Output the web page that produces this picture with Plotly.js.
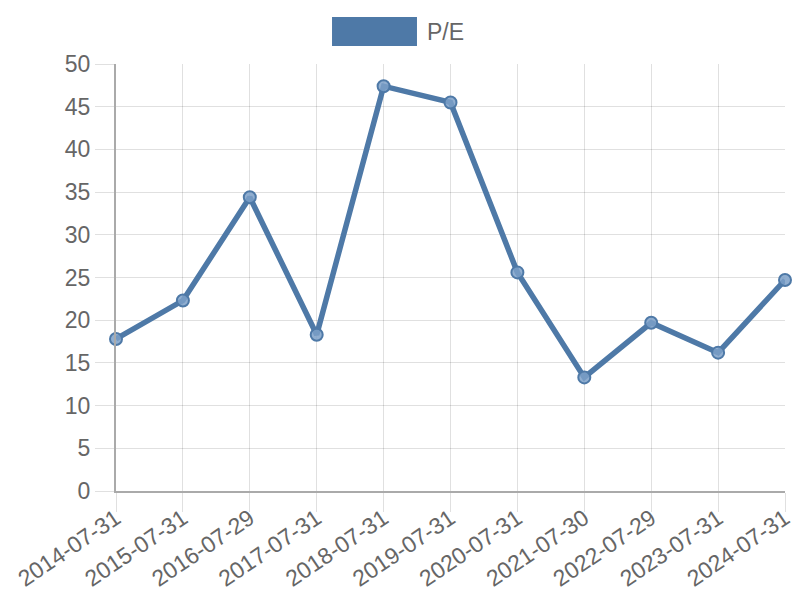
<!DOCTYPE html>
<html>
<head>
<meta charset="utf-8">
<script src="https://cdn.plot.ly/plotly-3.0.1.min.js"></script>
<style>
  html, body { margin: 0; padding: 0; background: #fff; }
  #chart { width: 800px; height: 600px; }
</style>
</head>
<body>
<div id="chart"></div>
<script>
var dates = ['2014-07-31', '2015-07-31', '2016-07-29', '2017-07-31', '2018-07-31', '2019-07-31',
             '2020-07-31', '2021-07-30', '2022-07-29', '2023-07-31', '2024-07-31'];
var peValues = [17.8, 22.3, 34.4, 18.3, 47.4, 45.5, 25.6, 13.3, 19.7, 16.2, 24.7];
var seriesName = 'P/E';

var blue = '#4e79a7';
var font = 'Liberation Sans, Arial, sans-serif';

var trace = {
    type: 'scatter',
    mode: 'lines+markers',
    x: dates,
    y: peValues,
    name: seriesName,
    showlegend: false,
    line: {color: blue, width: 5.5},
    marker: {size: 12, color: 'rgba(125,160,200,0.85)', line: {color: blue, width: 2}},
    cliponaxis: false
};

var layout = {
    width: 800,
    height: 600,
    margin: {l: 116, r: 15, t: 64, b: 109},
    paper_bgcolor: '#fff',
    plot_bgcolor: '#fff',
    font: {family: font, color: '#666', size: 23},
    xaxis: {
        type: 'category',
        range: [0, dates.length - 1],
        tickangle: -34,
        ticks: 'outside',
        ticklen: 19,
        ticklabelstandoff: -16,
        tickcolor: 'rgba(0,0,0,0.12)',
        showgrid: true,
        gridcolor: 'rgba(0,0,0,0.12)',
        showline: true,
        linecolor: '#aaa',
        linewidth: 2,
        tickfont: {size: 23, color: '#666'},
        zeroline: false
    },
    yaxis: {
        range: [0, 50],
        dtick: 5,
        ticks: 'outside',
        ticklen: 19,
        tickcolor: 'rgba(0,0,0,0.12)',
        gridcolor: 'rgba(0,0,0,0.12)',
        showline: true,
        linecolor: '#aaa',
        linewidth: 2,
        zeroline: false,
        tickfont: {size: 23, color: '#666'}
    },
    shapes: [{
        type: 'rect', xref: 'paper', yref: 'paper',
        x0: 0.3229, x1: 0.4499, y0: 1.0422, y1: 1.110,
        fillcolor: blue, line: {width: 0}
    }],
    annotations: [{
        xref: 'paper', yref: 'paper', x: 0.4619, y: 1.075,
        xanchor: 'left', yanchor: 'middle', showarrow: false,
        text: seriesName, font: {size: 23, color: '#666'}
    }]
};

Plotly.newPlot('chart', [trace], layout, {displayModeBar: false, staticPlot: true});
</script>
</body>
</html>
